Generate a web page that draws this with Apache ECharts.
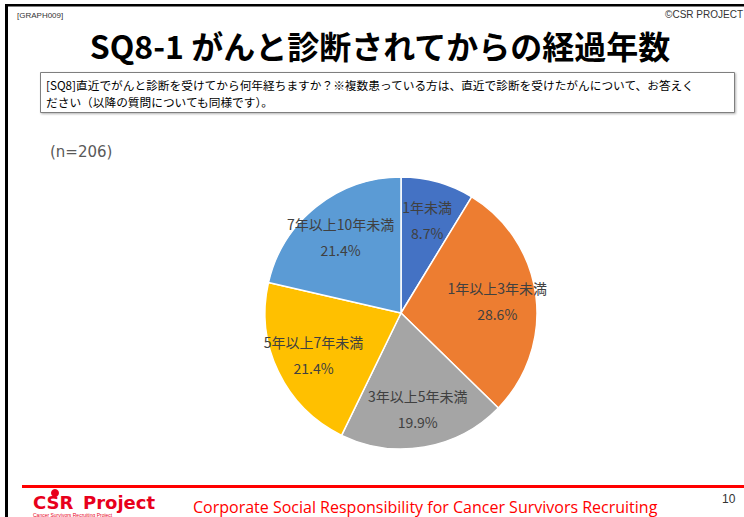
<!DOCTYPE html>
<html>
<head>
<meta charset="utf-8">
<script src="https://cdn.jsdelivr.net/npm/echarts@6/dist/echarts.min.js"></script>
<style>
html,body{margin:0;padding:0;background:#fff;}
#chart{width:744px;height:517px;}
</style>
</head>
<body>
<div id="chart"></div>
<script>
// ---- data ----
const categories = ['1年未満', '1年以上3年未満', '3年以上5年未満', '5年以上7年未満', '7年以上10年未満'];
const shares = [8.7, 28.6, 19.9, 21.4, 21.4];
const sliceColors = ['#4472C4', '#ED7D31', '#A5A5A5', '#FFC000', '#5B9BD5'];
const titleText = 'SQ8-1 がんと診断されてからの経過年数';
const questionLines = ['[SQ8]直近でがんと診断を受けてから何年経ちますか？※複数患っている方は、直近で診断を受けたがんについて、お答えく', 'ださい（以降の質問についても同様です）。'];
const sampleText = '(n=206)';
const footerText = 'Corporate Social Responsibility for Cancer Survivors Recruiting';
const pageNo = '10';

const jp = '"Noto Sans CJK JP", "Noto Sans", sans-serif';
const pieData = categories.map((n, i) => ({ name: n, value: shares[i] }));

const chart = echarts.init(document.getElementById('chart'), null, { renderer: 'svg' });
chart.setOption({
  backgroundColor: '#ffffff',
  animation: false,
  color: sliceColors,
  graphic: [
    { type: 'rect', shape: { x: 5, y: 4, width: 3, height: 513 }, style: { fill: '#000' } },
    { type: 'rect', shape: { x: 5, y: 4, width: 739, height: 2.5 }, style: { fill: '#000' } },
    { type: 'text', x: 17, y: 15, style: { text: '[GRAPH009]', font: '8px "Liberation Sans", sans-serif', fill: '#333', verticalAlign: 'middle' } },
    { type: 'text', x: 743, y: 14, style: { text: '©CSR PROJECT', font: '10px "Liberation Sans", sans-serif', fill: '#333', align: 'right', verticalAlign: 'middle' } },
    { type: 'text', x: 380, y: 45, style: { text: titleText, font: 'bold 32px ' + jp, fill: '#000', align: 'center', verticalAlign: 'middle' } },
    { type: 'rect', shape: { x: 40.5, y: 72.5, width: 694, height: 40 }, style: { fill: '#fff', stroke: '#7f7f7f', lineWidth: 1, shadowBlur: 2, shadowOffsetX: 1, shadowOffsetY: 1, shadowColor: 'rgba(0,0,0,0.3)' } },
    { type: 'text', x: 46, y: 76, style: { text: questionLines.join('\n'), font: '11.7px ' + jp, lineHeight: 17, fill: '#000' } },
    { type: 'text', x: 50, y: 152, style: { text: sampleText, font: '15px "DejaVu Sans", sans-serif', fill: '#595959', verticalAlign: 'middle' } },
    { type: 'rect', shape: { x: 22, y: 485, width: 722, height: 3 }, style: { fill: '#FF0000' } },
    { type: 'circle', shape: { cx: 55, cy: 493, r: 4 }, style: { fill: '#E8001C' } },
    { type: 'text', x: 33, y: 511, style: { text: 'CSR', font: '900 18px "DejaVu Sans", sans-serif', fill: '#E8001C', verticalAlign: 'bottom' } },
    { type: 'text', x: 83, y: 511, style: { text: 'Project', font: 'bold 18px "DejaVu Sans", sans-serif', fill: '#E8001C', verticalAlign: 'bottom' } },
    { type: 'text', x: 33, y: 512, style: { text: 'Cancer Survivors Recruiting Project', font: '5px "Liberation Sans", sans-serif', fill: '#E8001C', verticalAlign: 'top' } },
    { type: 'text', x: 193, y: 507, style: { text: footerText, font: '16px "Open Sans", sans-serif', fill: '#FF0000', verticalAlign: 'middle' } },
    { type: 'text', x: 722, y: 499, style: { text: pageNo, font: '12px "Liberation Sans", sans-serif', fill: '#333', verticalAlign: 'middle' } }
  ],
  series: [
    {
      type: 'pie',
      center: [401, 313],
      radius: [0, 136],
      startAngle: 90,
      clockwise: true,
      silent: true,
      label: { show: false },
      labelLine: { show: false },
      itemStyle: { borderColor: '#fff', borderWidth: 1.5 },
      data: pieData
    },
    {
      type: 'pie',
      center: [401, 313],
      radius: [52, 136],
      startAngle: 90,
      clockwise: true,
      silent: true,
      z: 3,
      itemStyle: { color: 'rgba(0,0,0,0)', borderWidth: 0 },
      label: {
        show: true,
        position: 'inside',
        formatter: p => p.name + '\n' + p.value.toFixed(1) + '%',
        fontFamily: jp,
        fontSize: 14,
        lineHeight: 26,
        color: '#404040',
        align: 'center'
      },
      labelLine: { show: false },
      data: pieData
    }
  ]
});
</script>
</body>
</html>
